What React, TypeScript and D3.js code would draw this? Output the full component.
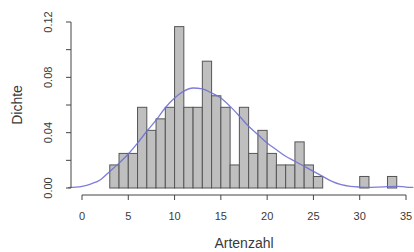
import * as d3 from "d3";

// histogram bins (width 1), lower edges 3..33
const binStart = [3, 4, 5, 6, 7, 8, 9, 10, 11, 12, 13, 14, 15, 16, 17, 18, 19, 20, 21, 22, 23, 24, 25, 26, 27, 28, 29, 30, 31, 32, 33];
const binCount = [2, 3, 3, 7, 5, 6, 7, 14, 7, 7, 11, 8, 7, 2, 7, 3, 5, 3, 2, 2, 4, 2, 1, 0, 0, 0, 0, 1, 0, 0, 1];

// density curve
const kdeX = [-1.5, 0, 1, 2, 3, 4, 5, 6, 7, 8, 9, 10, 11, 12, 13, 14, 15, 16, 17, 18, 19, 20, 21, 22, 23, 24, 25, 26, 27, 28, 29, 30, 31, 32, 33, 34, 35, 35.8];
const kdeY = [0.0003, 0.0012, 0.003, 0.006, 0.012, 0.018, 0.0246, 0.0325, 0.041, 0.049, 0.058, 0.065, 0.070, 0.0723, 0.0716, 0.0687, 0.065, 0.059, 0.052, 0.0446, 0.0386, 0.0325, 0.0277, 0.0229, 0.0193, 0.0157, 0.012, 0.0084, 0.0048, 0.0024, 0.0012, 0.0007, 0.0005, 0.0007, 0.001, 0.0012, 0.0007, 0.0005];

const xTicks = [0, 5, 10, 15, 20, 25, 30, 35];
const yTicks = [0, 0.02, 0.04, 0.06, 0.08, 0.1, 0.12];
const yLabels = [0, 0.04, 0.08, 0.12];

export default function App() {
  const W = 414, H = 252;
  const x = d3.scaleLinear().domain([0, 35]).range([82, 406]);
  const y = d3.scaleLinear().domain([0, 0.12]).range([188, 22]);
  const total = d3.sum(binCount);
  const font = "'Liberation Sans', Arial, sans-serif";
  const txt = "#3a3a3a";

  const line = d3.line<number>()
    .x((_, i) => x(kdeX[i]))
    .y((d) => y(d))
    .curve(d3.curveMonotoneX);

  return (
    <svg width={W} height={H} style={{ position: "absolute", left: 0, top: 0, background: "#fff" }}>
      {binStart.map((b, i) => {
        const top = y(binCount[i] / total);
        return (
          <rect key={b} x={x(b)} y={top} width={x(b + 1) - x(b)} height={y(0) - top}
            fill="#bfbfbf" stroke="#555" strokeWidth={1} />
        );
      })}
      <path d={line(kdeY) ?? ""} fill="none" stroke="#6f6fd6" strokeWidth={1.3} opacity={0.9} />

      {/* x axis */}
      <line x1={x(0)} x2={x(35)} y1={195} y2={195} stroke="#444" />
      {xTicks.map((t) => (
        <g key={t}>
          <line x1={x(t)} x2={x(t)} y1={195} y2={200} stroke="#444" />
          <text x={x(t)} y={220} textAnchor="middle" fontSize={11} fontFamily={font} fill={txt}>{t}</text>
        </g>
      ))}
      <text x={244} y={248} textAnchor="middle" fontSize={14} fontFamily={font} fill={txt}>Artenzahl</text>

      {/* y axis */}
      <line x1={71} x2={71} y1={y(0)} y2={y(0.12)} stroke="#444" />
      {yTicks.map((t) => (
        <line key={t} x1={66} x2={71} y1={y(t)} y2={y(t)} stroke="#444" />
      ))}
      {yLabels.map((t) => (
        <text key={t} transform={`translate(52,${y(t)}) rotate(-90)`} textAnchor="middle" fontSize={11}
          fontFamily={font} fill={txt}>{t.toFixed(2)}</text>
      ))}
      <text transform={`translate(22,${y(0.06)}) rotate(-90)`} textAnchor="middle" fontSize={14}
        fontFamily={font} fill={txt}>Dichte</text>
    </svg>
  );
}
